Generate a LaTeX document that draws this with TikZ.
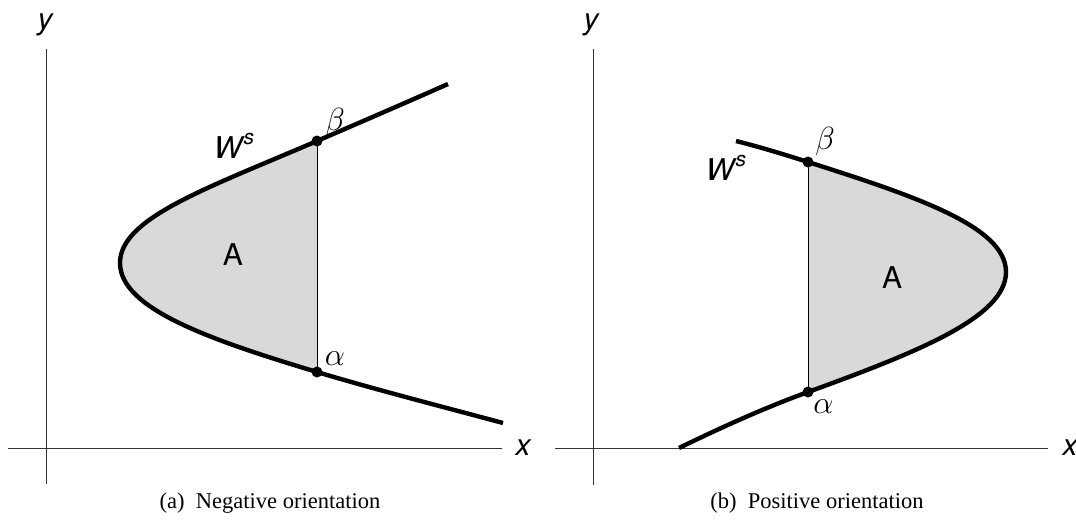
\RequirePackage{fix-cm}
\documentclass[tikz,border=0pt]{standalone}
\usepackage{fontspec}
\setmainfont{Liberation Serif}
\newfontfamily\hv{TeX Gyre Heros}
\newcommand{\Wsup}{W\kern1.5pt\raisebox{0.45em}{\fontsize{21}{21}\selectfont s}}
\begin{document}
\begin{tikzpicture}[x=1pt,y=-1pt,
  axis/.style={line width=1pt, draw=black!80},
  curve/.style={line width=4.4pt, line join=round},
  region/.style={fill=black!15},
  chord/.style={line width=1pt},
  pt/.style={circle, fill=black, inner sep=0pt, minimum size=11pt},
  lab/.style={font=\hv\itshape\fontsize{30}{36}\selectfont, inner sep=0pt},
  labup/.style={font=\hv\fontsize{30}{36}\selectfont, inner sep=0pt},
  greek/.style={font=\fontsize{32}{36}\selectfont, inner sep=0pt},
  capt/.style={font=\fontsize{22.5}{27}\selectfont, inner sep=0pt}]
\useasboundingbox (0,0) rectangle (1076,525);

% ---------- left panel ----------
\coordinate (yLt) at (46.7,49);
\coordinate (yLb) at (46.7,484);
\coordinate (xLl) at (8.3,448.3);
\coordinate (xLr) at (502,448.3);
\draw[axis] (yLb) -- (yLt);
\draw[axis] (xLl) -- (xLr);
\node[lab] (ylabL) at (45,25) {y};
\node[lab] (xlabL) at (523,448) {x};

\coordinate (bLc) at (317,141);
\coordinate (aLc) at (317,372);
\coordinate (vL) at (120,263);
\fill[region] (bLc) .. controls (207,188.3) and (120,218) .. (vL)
  .. controls (120,308) and (207,339) .. (aLc) -- cycle;
\draw[chord] (bLc) -- (aLc);
\draw[curve] (448,84) .. controls (405,103) and (362,121.6) .. (bLc)
  .. controls (207,188.3) and (120,218) .. (vL)
  .. controls (120,308) and (207,339) .. (aLc)
  .. controls (377,390) and (440,406) .. (503,423);
\node[pt] (bL) at (bLc) {};
\node[pt] (aL) at (aLc) {};
\node[greek] (betaL) at (335,122) {$\beta$};
\node[greek] (alphaL) at (335,359) {$\alpha$};
\node[lab] (WL) at (234,146) {\Wsup};
\node[labup] (AL) at (233,255) {A};
\node[capt] (capL) at (270,503) {(a)\hspace{0.25em} Negative orientation};

% ---------- right panel ----------
\coordinate (yRt) at (593,49);
\coordinate (yRb) at (593,485);
\coordinate (xRl) at (555,448.3);
\coordinate (xRr) at (1048,448.3);
\draw[axis] (yRb) -- (yRt);
\draw[axis] (xRl) -- (xRr);
\node[lab] (ylabR) at (591,25) {y};
\node[lab] (xlabR) at (1070,448) {x};

\coordinate (bRc) at (808,162);
\coordinate (aRc) at (808,392);
\coordinate (vR) at (1006,272);
\fill[region] (bRc) .. controls (918,197) and (1006,227) .. (vR)
  .. controls (1006,317) and (918,352) .. (aRc) -- cycle;
\draw[chord] (bRc) -- (aRc);
\draw[curve] (736,141) .. controls (760,147) and (784,154.4) .. (bRc)
  .. controls (918,197) and (1006,227) .. (vR)
  .. controls (1006,317) and (918,352) .. (aRc)
  .. controls (764,408) and (720,428) .. (679,448);
\node[pt] (bR) at (bRc) {};
\node[pt] (aR) at (aRc) {};
\node[greek] (betaR) at (825,141) {$\beta$};
\node[greek] (alphaR) at (823.5,407) {$\alpha$};
\node[lab] (WR) at (726,168) {\Wsup};
\node[labup] (AR) at (892,278) {A};
\node[capt] (capR) at (817,503) {(b)\hspace{0.25em} Positive orientation};
\end{tikzpicture}
\end{document}
